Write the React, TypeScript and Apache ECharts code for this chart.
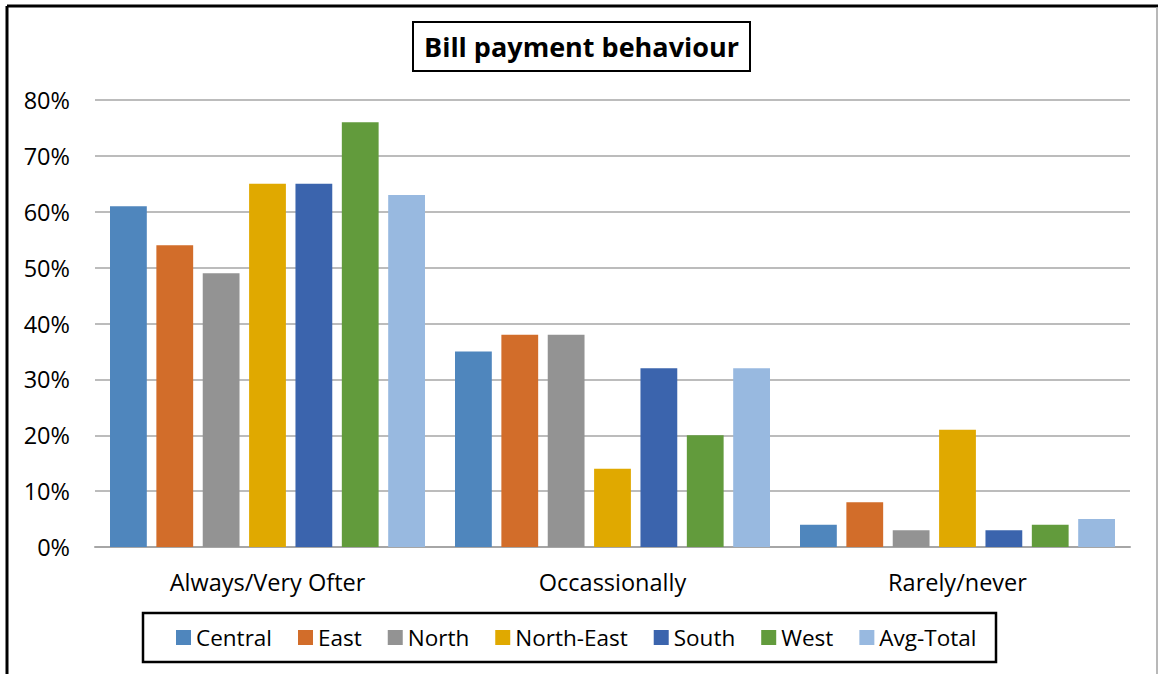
import React, { useEffect, useRef } from "react";
import * as echarts from "echarts";

const categories = ["Always/Very Ofter", "Occassionally", "Rarely/never"];
const regions = ["Central", "East", "North", "North-East", "South", "West", "Avg-Total"];
const regionColors = ["#4f86bd", "#d26d2a", "#939393", "#e0a900", "#3b64ad", "#629b3c", "#98b9e0"];

// percentages per region, in category order
const central = [61, 35, 4];
const east = [54, 38, 8];
const north = [49, 38, 3];
const northEast = [65, 14, 21];
const south = [65, 32, 3];
const west = [76, 20, 4];
const avgTotal = [63, 32, 5];

const seriesValues = [central, east, north, northEast, south, west, avgTotal];

const FONT = "'Open Sans', 'Noto Sans', sans-serif";

export default function App() {
  const ref = useRef<HTMLDivElement>(null);

  useEffect(() => {
    document.body.style.margin = "0";
    const chart = echarts.init(ref.current!, null, { renderer: "svg" });
    chart.setOption({
      animation: false,
      backgroundColor: "#ffffff",
      textStyle: { fontFamily: FONT },
      title: {
        text: "Bill payment behaviour",
        left: 413,
        top: 22,
        padding: [11, 11, 11, 11],
        borderColor: "#000000",
        borderWidth: 2,
        textStyle: { fontFamily: FONT, fontWeight: "bold", fontSize: 27, color: "#000000" },
      },
      legend: {
        data: regions,
        left: 171,
        top: 621,
        itemWidth: 15,
        itemHeight: 15,
        itemGap: 26,
        icon: "rect",
        textStyle: { fontFamily: FONT, fontSize: 22.5, color: "#000000" },
      },
      grid: { left: 95, right: 28, top: 100, bottom: 127, containLabel: false },
      xAxis: {
        type: "category",
        data: categories,
        axisLine: { lineStyle: { color: "#a6a6a6", width: 2 } },
        axisTick: { show: false },
        axisLabel: { fontFamily: FONT, fontSize: 23.5, color: "#000000", margin: 23 },
      },
      yAxis: {
        type: "value",
        min: 0,
        max: 80,
        interval: 10,
        axisLine: { show: false },
        axisTick: { show: false },
        axisLabel: { formatter: "{value}%", fontFamily: FONT, fontSize: 23.5, color: "#000000", margin: 25 },
        splitLine: { lineStyle: { color: "#a6a6a6", width: 1.5 } },
      },
      series: regions.map((name, i) => ({
        name,
        type: "bar",
        data: seriesValues[i],
        barGap: "26%",
        barCategoryGap: "8.7%",
        itemStyle: { color: regionColors[i] },
      })),
      graphic: [
        { type: "line", shape: { x1: 7, y1: 6, x2: 1158, y2: 6 }, style: { stroke: "#000000", lineWidth: 3 } },
        { type: "line", shape: { x1: 7, y1: 6, x2: 7, y2: 674 }, style: { stroke: "#000000", lineWidth: 3 } },
        { type: "line", shape: { x1: 1157, y1: 7, x2: 1157, y2: 674 }, style: { stroke: "#a0a0a0", lineWidth: 1.5 } },
        {
          type: "rect",
          shape: { x: 143, y: 613, width: 853, height: 49 },
          style: { fill: "none", stroke: "#000000", lineWidth: 2.5 },
        },
      ],
    });
    return () => chart.dispose();
  }, []);

  return <div ref={ref} style={{ width: 1158, height: 674 }} />;
}
